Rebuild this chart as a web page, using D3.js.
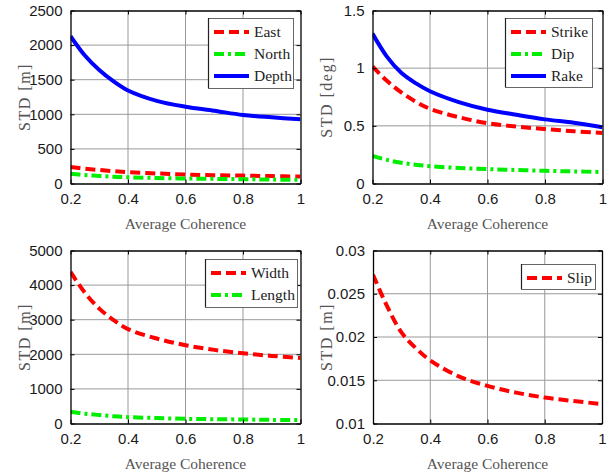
<!DOCTYPE html>
<html><head><meta charset="utf-8">
<script src="https://cdn.jsdelivr.net/npm/d3@7"></script>
<style>
html,body{margin:0;padding:0;background:#fff;}
svg{display:block;}
</style></head>
<body>
<svg id="chart" width="609" height="474"></svg>
<script>
// ---- data ----
const coherence = [0.2, 0.25, 0.3, 0.35, 0.4, 0.5, 0.6, 0.7, 0.8, 0.9, 1.0];
const xTicks = [0.2, 0.4, 0.6, 0.8, 1];

const eastStd   = [240, 215, 195, 178, 165, 145, 130, 120, 114, 107, 100];
const northStd  = [140, 122, 110, 98, 90, 80, 72, 67, 62, 57, 52];
const depthStd  = [2130, 1850, 1640, 1475, 1345, 1195, 1110, 1052, 990, 956, 928];

const strikeStd = [1.015, 0.89, 0.79, 0.71, 0.648, 0.575, 0.523, 0.494, 0.472, 0.453, 0.438];
const dipStd    = [0.24, 0.205, 0.18, 0.163, 0.15, 0.135, 0.125, 0.117, 0.11, 0.105, 0.1];
const rakeStd   = [1.3, 1.1, 0.96, 0.87, 0.8, 0.706, 0.64, 0.596, 0.556, 0.527, 0.488];

const widthStd  = [4380, 3780, 3320, 2990, 2727, 2456, 2263, 2128, 2031, 1954, 1895];
const lengthStd = [338, 285, 245, 210, 184, 158, 135, 125, 116, 105, 97];

const slipStd   = [0.0272, 0.0235, 0.0205, 0.0187, 0.0173, 0.01544, 0.01435, 0.01357, 0.0130, 0.0126, 0.01225];

const ticksDepth = [0, 500, 1000, 1500, 2000, 2500];
const ticksAngle = [0, 0.5, 1, 1.5];
const ticksSize  = [0, 1000, 2000, 3000, 4000, 5000];
const ticksSlip  = [0.01, 0.015, 0.02, 0.025, 0.03];

const xLabel = "Average Coherence";

// ---- styles ----
const styles = {
  dash:    {color: "#ff0000", dash: "10,5"},
  dashdot: {color: "#00ee00", dash: "10,4,3,4"},
  solid:   {color: "#0000ff", dash: null}
};

const panels = [
  {left: 70.5, top: 10.5, right: 300.5, bottom: 183.5, domain: [0, 2500], ticks: ticksDepth, ylabel: "STD [m]",
   series: [{name: "East", v: eastStd, s: "dash"}, {name: "North", v: northStd, s: "dashdot"}, {name: "Depth", v: depthStd, s: "solid"}],
   legend: {x: 208, y: 18, w: 85, h: 70}},
  {left: 372.5, top: 10.5, right: 602.5, bottom: 183.5, domain: [0, 1.5], ticks: ticksAngle, ylabel: "STD [deg]",
   series: [{name: "Strike", v: strikeStd, s: "dash"}, {name: "Dip", v: dipStd, s: "dashdot"}, {name: "Rake", v: rakeStd, s: "solid"}],
   legend: {x: 505, y: 18, w: 87, h: 69}},
  {left: 70.5, top: 250.5, right: 300.5, bottom: 423.5, domain: [0, 5000], ticks: ticksSize, ylabel: "STD [m]",
   series: [{name: "Width", v: widthStd, s: "dash"}, {name: "Length", v: lengthStd, s: "dashdot"}],
   legend: {x: 205, y: 259, w: 92, h: 48}},
  {left: 373, top: 250.5, right: 602, bottom: 423.5, domain: [0.01, 0.03], ticks: ticksSlip, ylabel: "STD [m]",
   series: [{name: "Slip", v: slipStd, s: "dash"}],
   legend: {x: 521, y: 264, w: 74, h: 25}}
];

const svg = d3.select("#chart");
const serif = "'Liberation Serif', 'Times New Roman', serif";
const sans = "'Liberation Sans', Arial, sans-serif";

panels.forEach((p, i) => {
  const x = d3.scaleLinear().domain([0.2, 1]).range([p.left, p.right]);
  const y = d3.scaleLinear().domain(p.domain).range([p.bottom, p.top]);
  const g = svg.append("g");

  // grid
  g.selectAll(".gx").data(xTicks.slice(1, -1)).join("line")
    .attr("x1", d => x(d)).attr("x2", d => x(d)).attr("y1", p.top).attr("y2", p.bottom)
    .attr("stroke", "#999").attr("stroke-width", 1);
  g.selectAll(".gy").data(p.ticks.slice(1, -1)).join("line")
    .attr("y1", d => y(d)).attr("y2", d => y(d)).attr("x1", p.left).attr("x2", p.right)
    .attr("stroke", "#999").attr("stroke-width", 1);

  // clip
  const cid = "clip" + i;
  svg.append("clipPath").attr("id", cid).append("rect")
    .attr("x", p.left).attr("y", p.top).attr("width", p.right - p.left).attr("height", p.bottom - p.top);

  const line = d3.line().x((d, k) => x(coherence[k])).y(d => y(d)).curve(d3.curveCatmullRom);
  p.series.forEach(s => {
    const st = styles[s.s];
    g.append("path").attr("clip-path", `url(#${cid})`)
      .attr("d", line(s.v)).attr("fill", "none")
      .attr("stroke", st.color).attr("stroke-width", 4)
      .attr("stroke-dasharray", st.dash);
  });

  // axes (inward ticks on all sides)
  const fmt = d => String(d);
  const axB = g.append("g").attr("transform", `translate(0,${p.bottom})`)
    .call(d3.axisBottom(x).tickValues(xTicks).tickSizeInner(-4).tickSizeOuter(0).tickPadding(10).tickFormat(fmt));
  const axT = g.append("g").attr("transform", `translate(0,${p.top})`)
    .call(d3.axisTop(x).tickValues(xTicks).tickSizeInner(-4).tickSizeOuter(0).tickFormat(""));
  const axL = g.append("g").attr("transform", `translate(${p.left},0)`)
    .call(d3.axisLeft(y).tickValues(p.ticks).tickSizeInner(-4).tickSizeOuter(0).tickPadding(8).tickFormat(fmt));
  const axR = g.append("g").attr("transform", `translate(${p.right},0)`)
    .call(d3.axisRight(y).tickValues(p.ticks).tickSizeInner(-4).tickSizeOuter(0).tickFormat(""));
  [axB, axT, axL, axR].forEach(a => {
    a.select(".domain").attr("stroke", "#000").attr("stroke-width", 1.3);
    a.selectAll(".tick line").attr("stroke", "#000");
    a.selectAll("text").attr("font-family", sans)
      .attr("font-size", 15).attr("fill", "#1a1a1a");
  });

  // labels
  g.append("text").attr("x", (p.left + p.right) / 2).attr("y", p.bottom + 45)
    .attr("text-anchor", "middle").attr("font-family", serif)
    .attr("font-size", 15.5).attr("fill", "#555").text(xLabel);
  g.append("text")
    .attr("transform", `translate(${p.left - 41},${(p.top + p.bottom) / 2}) rotate(-90)`)
    .attr("text-anchor", "middle").attr("font-family", serif)
    .attr("font-size", 16).attr("letter-spacing", 1.5).attr("fill", "#555").text(p.ylabel);

  // legend
  const L = p.legend;
  g.append("rect").attr("x", L.x + 0.5).attr("y", L.y + 0.5).attr("width", L.w).attr("height", L.h)
    .attr("fill", "#fff").attr("stroke", "#666").attr("stroke-width", 1);
  g.append("line").attr("x1", L.x + 0.5).attr("x2", L.x + 0.5).attr("y1", L.y).attr("y2", L.y + L.h)
    .attr("stroke", "#222").attr("stroke-width", 1.2);
  p.series.forEach((s, k) => {
    const st = styles[s.s];
    const ry = L.y + 14 + k * 22;
    g.append("line").attr("x1", L.x + 6).attr("x2", L.x + 41).attr("y1", ry).attr("y2", ry)
      .attr("stroke", st.color).attr("stroke-width", 4).attr("stroke-dasharray", st.dash);
    g.append("text").attr("x", L.x + 46).attr("y", ry + 5)
      .attr("font-family", serif)
      .attr("font-size", 15.5).attr("fill", "#222").text(s.name);
  });
});
</script>
</body></html>
